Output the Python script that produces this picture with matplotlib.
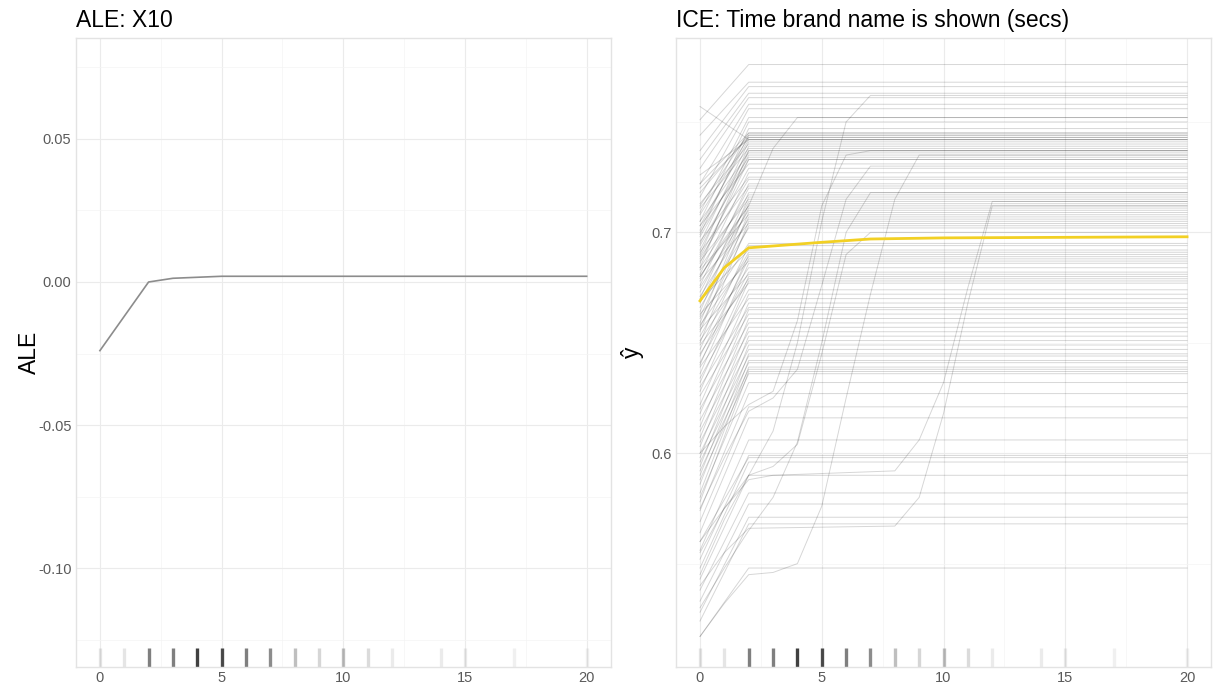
import matplotlib
matplotlib.use("Agg")
import matplotlib.pyplot as plt
import matplotlib.transforms as mtransforms

plt.rcParams["font.family"] = ["Liberation Sans", "DejaVu Sans"]

# ALE curve
ale_x = [0, 2, 3, 5, 20]
ale_y = [-0.024, 0.000, 0.0013, 0.0020, 0.0020]

# rug: feature values and how dark each stack of marks looks
rug_x = [0, 1, 2, 3, 4, 5, 6, 7, 8, 9, 10, 11, 12, 14, 15, 17, 20]
rug_alpha = [0.1, 0.1, 0.5, 0.5, 0.75, 0.7, 0.5, 0.45, 0.25, 0.16, 0.25, 0.14, 0.08, 0.08, 0.08, 0.06, 0.06]

# ICE curves that rise between x=0 and x=2 and then stay flat
ice_start = [
    0.751, 0.744, 0.737, 0.733, 0.729, 0.757, 0.722, 0.716, 0.709, 0.705, 0.699,
    0.722, 0.712, 0.718, 0.701, 0.720, 0.708, 0.703, 0.726, 0.695, 0.713, 0.690,
    0.711, 0.698, 0.684, 0.705, 0.692, 0.700, 0.686, 0.694,
    0.703, 0.689, 0.681, 0.696,
    0.688, 0.676, 0.691, 0.679, 0.670, 0.684, 0.664, 0.687, 0.673, 0.659, 0.680,
    0.668, 0.675, 0.655, 0.683, 0.662, 0.671, 0.650, 0.678, 0.657, 0.666,
    0.661, 0.647, 0.669, 0.653, 0.640, 0.658, 0.644, 0.663, 0.636, 0.651, 0.641,
    0.656, 0.632, 0.645, 0.628, 0.649,
    0.634, 0.622, 0.639, 0.618, 0.630, 0.612, 0.626, 0.607, 0.620, 0.603, 0.615,
    0.598, 0.610, 0.594,
    0.605, 0.590, 0.600, 0.586, 0.596, 0.582, 0.592, 0.578, 0.588,
    0.580, 0.574, 0.569, 0.564, 0.556, 0.552, 0.560, 0.548, 0.543, 0.538, 0.533,
    0.528, 0.524, 0.517,
]
ice_end = [
    0.776, 0.768, 0.766, 0.763, 0.761, 0.742, 0.758, 0.756, 0.752, 0.750, 0.747,
    0.745, 0.745, 0.744, 0.744, 0.743, 0.743, 0.742, 0.742, 0.741, 0.740, 0.739,
    0.738, 0.737, 0.737, 0.736, 0.735, 0.734, 0.733, 0.733,
    0.731, 0.729, 0.727, 0.725,
    0.724, 0.722, 0.721, 0.720, 0.718, 0.717, 0.716, 0.715, 0.714, 0.713, 0.712,
    0.711, 0.710, 0.709, 0.708, 0.707, 0.706, 0.705, 0.704, 0.703, 0.702,
    0.695, 0.694, 0.692, 0.691, 0.690, 0.689, 0.688, 0.687, 0.686, 0.684, 0.682,
    0.681, 0.680, 0.679, 0.678, 0.677,
    0.674, 0.672, 0.670, 0.668, 0.666, 0.665, 0.663, 0.661, 0.659, 0.657, 0.655,
    0.653, 0.651, 0.649,
    0.647, 0.645, 0.644, 0.642, 0.641, 0.639, 0.638, 0.637, 0.636,
    0.632, 0.627, 0.621, 0.616, 0.606, 0.599, 0.598, 0.596, 0.590, 0.582, 0.577,
    0.571, 0.568, 0.548,
]

# ICE curves that climb later on
late_x = [
    [0, 1, 2, 3, 4, 5, 6, 7, 20],
    [0, 1, 2, 3, 4, 20],
    [0, 1, 2, 3, 4, 5, 6, 7, 8, 9, 20],
    [0, 1, 2, 3, 4, 5, 6, 7, 20],
    [0, 1, 2, 3, 4, 5, 6, 7, 20],
    [0, 1, 2, 8, 9, 10, 11, 12, 20],
    [0, 1, 2, 3, 8, 9, 10, 11, 12, 20],
    [0, 1, 2, 3, 4, 5, 6, 7, 20],
    [0, 1, 2, 3, 4, 5, 6, 7, 20],
]
late_y = [
    [0.560, 0.575, 0.590, 0.610, 0.650, 0.705, 0.750, 0.762, 0.762],
    [0.680, 0.697, 0.712, 0.738, 0.752, 0.752],
    [0.517, 0.532, 0.545, 0.546, 0.550, 0.576, 0.625, 0.672, 0.715, 0.735, 0.735],
    [0.600, 0.612, 0.622, 0.628, 0.660, 0.712, 0.735, 0.737, 0.737],
    [0.530, 0.548, 0.565, 0.580, 0.605, 0.650, 0.700, 0.718, 0.718],
    [0.540, 0.555, 0.566, 0.567, 0.580, 0.618, 0.668, 0.712, 0.712],
    [0.555, 0.575, 0.588, 0.590, 0.592, 0.606, 0.632, 0.675, 0.714, 0.714],
    [0.575, 0.598, 0.619, 0.625, 0.638, 0.676, 0.715, 0.730, 0.730],
    [0.545, 0.570, 0.590, 0.594, 0.604, 0.645, 0.690, 0.700, 0.700],
]

# partial dependence (average) curve
pdp_x = [0, 1, 2, 5, 7, 10, 20]
pdp_y = [0.669, 0.684, 0.693, 0.6955, 0.697, 0.6975, 0.698]

grid_major = "#EBEBEB"
grid_minor = "#F4F4F4"
tick_col = "#5A5A5A"


def style(ax):
    ax.set_facecolor("white")
    for s in ax.spines.values():
        s.set_color("#E3E3E3")
        s.set_linewidth(1.0)
    ax.tick_params(length=0, labelsize=10.5, labelcolor=tick_col, pad=3)
    ax.grid(True, which="major", color=grid_major, linewidth=0.8)
    ax.grid(True, which="minor", color=grid_minor, linewidth=0.5)
    ax.set_axisbelow(True)
    ax.set_xlim(-1, 21)
    ax.set_xticks([0, 5, 10, 15, 20])
    ax.set_xticks([2.5, 7.5, 12.5, 17.5], minor=True)
    ax.tick_params(which="minor", length=0)
    trans = mtransforms.blended_transform_factory(ax.transData, ax.transAxes)
    for xv, a in zip(rug_x, rug_alpha):
        ax.plot([xv, xv], [0, 0.03], color="black", alpha=a, linewidth=2.4,
                transform=trans, solid_capstyle="butt")


fig = plt.figure(figsize=(12.13, 6.84), dpi=100)
ax1 = fig.add_axes([0.0623, 0.0249, 0.4414, 0.9195])
ax2 = fig.add_axes([0.5570, 0.0249, 0.4417, 0.9195])

# left: ALE
style(ax1)
ax1.plot(ale_x, ale_y, color="#8C8C8C", linewidth=1.2)
ax1.set_ylim(-0.1346, 0.0853)
ax1.set_yticks([-0.10, -0.05, 0.00, 0.05])
ax1.set_yticklabels(["-0.10", "-0.05", "0.00", "0.05"])
ax1.set_yticks([-0.125, -0.075, -0.025, 0.025, 0.075], minor=True)
ax1.set_ylabel("ALE", fontsize=16.5, labelpad=-2)
ax1.set_title("ALE: X10", loc="left", fontsize=16.5, pad=8)

# right: ICE
style(ax2)
for y0, y2 in zip(ice_start, ice_end):
    ax2.plot([0, 2, 20], [y0, y2, y2], color="black", alpha=0.16, linewidth=0.7)
for xs, ys in zip(late_x, late_y):
    ax2.plot(xs, ys, color="black", alpha=0.16, linewidth=0.7)
ax2.plot(pdp_x, pdp_y, color="#F2D024", linewidth=2.0)
ax2.set_ylim(0.5032, 0.788)
ax2.set_yticks([0.6, 0.7])
ax2.set_yticklabels(["0.6", "0.7"])
ax2.set_yticks([0.55, 0.65, 0.75], minor=True)
ax2.set_ylabel("ŷ", fontsize=16.5, labelpad=5)
ax2.set_title("ICE: Time brand name is shown (secs)", loc="left", fontsize=16.5, pad=8)

fig.savefig("out.png", dpi=100, facecolor="white")
